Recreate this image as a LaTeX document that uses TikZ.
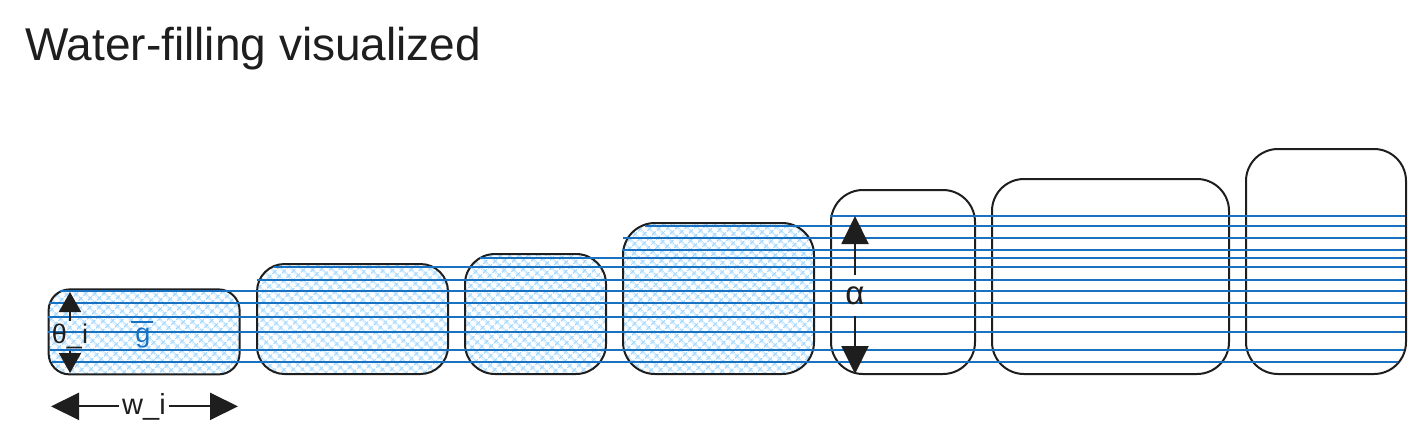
\documentclass[tikz,border=0pt]{standalone}
\usepackage{fontspec}
\setmainfont{Liberation Sans}
\usepackage{xcolor}
\usetikzlibrary{arrows.meta,patterns.meta}
\definecolor{ink}{HTML}{1E1E1E}
\definecolor{water}{HTML}{1971C2}
\definecolor{hatch}{HTML}{A5D8FF}
\tikzset{
box/.style={draw=ink, line width=2pt, anchor=south west, inner sep=0pt},
wetbox/.style={box, pattern={Hatch[angle=45,distance=6.5pt,line width=1.2pt]}, pattern color=hatch},
level/.style={draw=water, line width=2pt},
dim/.style={draw=ink, line width=2pt, -{Triangle[length=20pt,width=22pt]}},
bigdim/.style={draw=ink, line width=2pt, -{Triangle[length=28pt,width=27pt]}},
lbl/.style={text=ink, font=\fontsize{27}{30}\selectfont, anchor=base}
}

\begin{document}
\begin{tikzpicture}[x=1pt,y=-1pt]
\useasboundingbox (0,0) rectangle (1426,447);

\node[anchor=base west, inner sep=0pt, text=ink, font=\fontsize{46}{50}\selectfont] (title) at (25,60) {Water-filling visualized};

\foreach \n/\x/\w/\h/\r in {b1/48/191/85/21, b2/256/191/110/27.5, b3/464/141/120/30, b4/622/191/151/32}
\node[wetbox, minimum width=\w pt, minimum height=\h pt, rounded corners=\r pt] (\n) at (\x,375) {};
\foreach \n/\x/\w/\h in {b5/830/144/184, b6/991/237/195, b7/1245/160/225}
\node[box, minimum width=\w pt, minimum height=\h pt, rounded corners=32pt] (\n) at (\x,375) {};

\foreach \y/\a/\b in {216/830/1405, 226/645/1405, 238/623/1405, 250/622/1405,
258/480/1405, 267/274/1405, 280/257/1405, 291/60/1405, 303/49/1405,
317/48/1405, 332/48/1405, 350/49/1404, 362/52/1398}
\draw[level] (\a,\y) -- (\b,\y);

% theta_i and g bar
\node[lbl, inner sep=2pt] (th) at (70,343) {θ\_i};
\coordinate (tht) at (70,292);
\coordinate (thb) at (70,373);
\draw[dim] (th.north) -- (th.north |- tht);
\draw[dim] (th.south) -- (th.south |- thb);
\node[lbl, text=water] (gbar) at (143,342) {\rlap{\hspace{-4pt}\raisebox{19pt}{\rule{22pt}{2pt}}}g};

% alpha
\node[lbl, font=\fontsize{33}{36}\selectfont, inner sep=11pt] (al) at (855,304) {α};
\coordinate (alt) at (855,216);
\coordinate (alb) at (855,374);
\draw[bigdim] (al.north) -- (al.north |- alt);
\draw[bigdim] (al.south) -- (al.south |- alb);

% w_i
\node[lbl, font=\fontsize{29}{32}\selectfont, inner sep=3pt] (wi) at (144,414) {w\_i};
\coordinate (wl) at (51,408);
\coordinate (wr) at (238,408);
\draw[bigdim] (wi.west) -- (wi.west -| wl);
\draw[bigdim] (wi.east) -- (wi.east -| wr);
\end{tikzpicture}
\end{document}
